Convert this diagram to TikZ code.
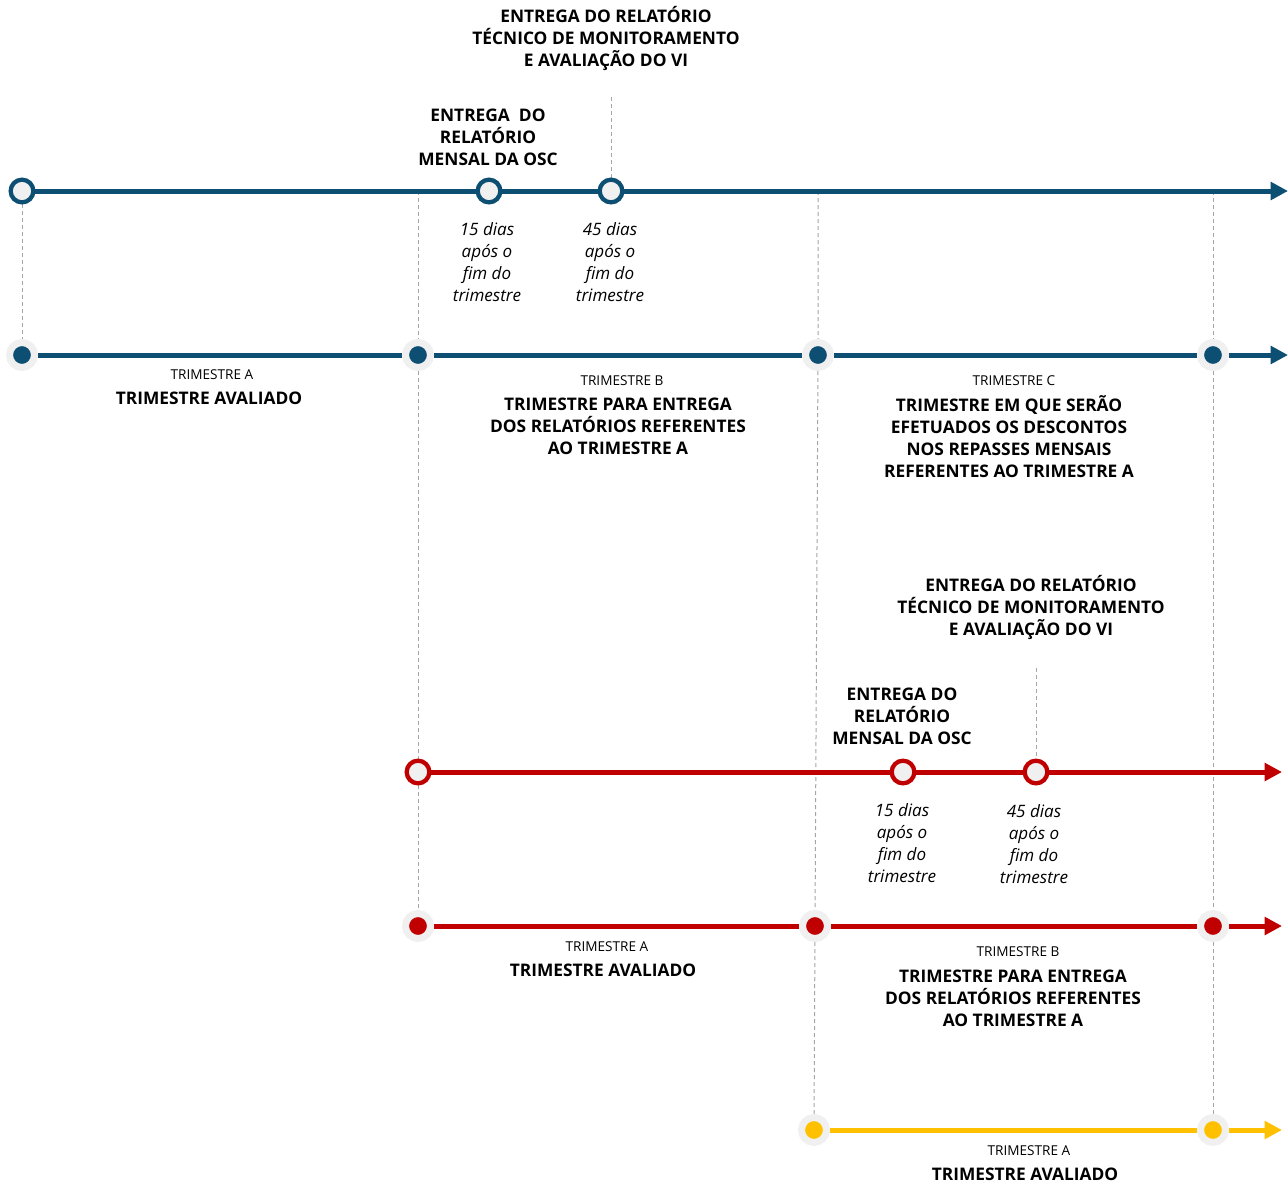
\documentclass[tikz,border=0pt]{standalone}
\usepackage{fontspec}
\setmainfont{Open Sans}
\usepackage{tikz}
\usetikzlibrary{arrows.meta, backgrounds}

\definecolor{azul}{RGB}{12,79,114}
\definecolor{vermelho}{RGB}{192,0,0}
\definecolor{amarelo}{RGB}{255,192,0}
\definecolor{halo}{RGB}{240,240,240}
\definecolor{guia}{RGB}{165,165,165}

\tikzset{
  marco/.style={circle, draw=#1, line width=3.2pt, fill=halo, minimum size=17pt, inner sep=0pt},
  ponto/.style={circle, draw=halo, fill=#1, line width=5.25pt, minimum size=18.75pt, inner sep=0pt},
  eixo/.style={draw=#1, line width=3.75pt},
  seta/.style={-{Triangle[length=13pt, width=13pt]}},
  guiaV/.style={draw=guia, line width=0.75pt, dash pattern=on 3pt off 2.25pt},
  titulo/.style={font=\fontsize{13}{16.5}\selectfont\bfseries, align=center, inner sep=0pt},
  prazo/.style={font=\fontsize{12.8}{16.5}\selectfont\itshape, align=center, inner sep=0pt},
  rotulo/.style={font=\fontsize{10.2}{12}\selectfont, inner sep=0pt},
}

\begin{document}
\begin{tikzpicture}[x=0.75pt, y=-0.75pt]
    \useasboundingbox (0,0) rectangle (1288,1182);

    % --- 1. Linha azul: marcos de entrega ---
    \node[marco=azul] (a0) at (22,191) {};
    \node[marco=azul] (a1) at (489,191) {};
    \node[marco=azul] (a2) at (611,191) {};
    \coordinate (aFim) at (1288,191);
    \coordinate (aB) at (418,191);
    \coordinate (aC) at (818,191);
    \coordinate (aD) at (1213,191);
    \coordinate (aTopo) at (611,97);

    % --- 2. Linha azul: trimestres ---
    \node[ponto=azul] (b0) at (22,355) {};
    \node[ponto=azul] (b1) at (418,355) {};
    \node[ponto=azul] (b2) at (818,355) {};
    \node[ponto=azul] (b3) at (1213,355) {};
    \coordinate (bFim) at (1288,355);

    % --- 3. Linha vermelha: marcos de entrega ---
    \node[marco=vermelho] (r0) at (418,772) {};
    \node[marco=vermelho] (r1) at (903,772) {};
    \node[marco=vermelho] (r2) at (1036,772) {};
    \coordinate (rFim) at (1282,772);
    \coordinate (rTopo) at (1036,668);

    % --- 4. Linha vermelha: trimestres ---
    \node[ponto=vermelho] (s0) at (418,926) {};
    \node[ponto=vermelho] (s1) at (815,926) {};
    \node[ponto=vermelho] (s2) at (1213,926) {};
    \coordinate (sFim) at (1282,926);

    % --- 5. Linha amarela ---
    \node[ponto=amarelo] (y0) at (814,1130) {};
    \node[ponto=amarelo] (y1) at (1213,1130) {};
    \coordinate (yFim) at (1282,1130);

    % --- 6. Eixos e guias (atrás dos marcos) ---
    \begin{pgfonlayer}{background}
        \draw[guiaV] (a0) -- (b0);
        \draw[guiaV] (aB) -- (b1) -- (r0) -- (s0);
        \draw[guiaV] (aC) -- (b2) -- (s1) -- (y0);
        \draw[guiaV] (aD) -- (b3) -- (s2) -- (y1);
        \draw[guiaV] (aTopo) -- (a2);
        \draw[guiaV] (rTopo) -- (r2);

        \draw[eixo=azul] (a0) -- (a1);
        \draw[eixo=azul] (a1) -- (a2);
        \draw[eixo=azul, seta] (a2) -- (aFim);
        \draw[eixo=azul] (b0) -- (b1);
        \draw[eixo=azul] (b1) -- (b2);
        \draw[eixo=azul] (b2) -- (b3);
        \draw[eixo=azul, seta] (b3) -- (bFim);

        \draw[eixo=vermelho] (r0) -- (r1);
        \draw[eixo=vermelho] (r1) -- (r2);
        \draw[eixo=vermelho, seta] (r2) -- (rFim);
        \draw[eixo=vermelho] (s0) -- (s1);
        \draw[eixo=vermelho] (s1) -- (s2);
        \draw[eixo=vermelho, seta] (s2) -- (sFim);

        \draw[eixo=amarelo] (y0) -- (y1);
        \draw[eixo=amarelo, seta] (y1) -- (yFim);
    \end{pgfonlayer}

    % --- 7. Textos da parte azul ---
    \node[titulo] (tVI) at (606,39) {ENTREGA DO RELATÓRIO\\TÉCNICO DE MONITORAMENTO\\E AVALIAÇÃO DO VI};
    \node[titulo] (tOSC) at (488,137) {ENTREGA~ DO\\RELATÓRIO\\MENSAL DA OSC};
    \node[prazo] (p15) at (487,262) {15 dias\\após o\\fim do\\trimestre};
    \node[prazo] (p45) at (610,262) {45 dias\\após o\\fim do\\trimestre};

    \node[rotulo] (lA) at (212,375) {TRIMESTRE A};
    \node[titulo] (tA) at (209,398) {TRIMESTRE AVALIADO};
    \node[rotulo] (lB) at (622,381) {TRIMESTRE B};
    \node[titulo] (tB) at (618,426) {TRIMESTRE PARA ENTREGA\\DOS RELATÓRIOS REFERENTES\\AO TRIMESTRE A};
    \node[rotulo] (lC) at (1014,381) {TRIMESTRE C};
    \node[titulo] (tC) at (1009,437) {TRIMESTRE EM QUE SERÃO\\EFETUADOS OS DESCONTOS\\NOS REPASSES MENSAIS\\REFERENTES AO TRIMESTRE A};

    % --- 8. Textos da parte vermelha ---
    \node[titulo] (uVI) at (1031,608) {ENTREGA DO RELATÓRIO\\TÉCNICO DE MONITORAMENTO\\E AVALIAÇÃO DO VI};
    \node[titulo] (uOSC) at (902,716) {ENTREGA DO\\RELATÓRIO\\MENSAL DA OSC};
    \node[prazo] (q15) at (902,843) {15 dias\\após o\\fim do\\trimestre};
    \node[prazo] (q45) at (1034,844) {45 dias\\após o\\fim do\\trimestre};

    \node[rotulo] (mA) at (607,947) {TRIMESTRE A};
    \node[titulo] (uA) at (603,970) {TRIMESTRE AVALIADO};
    \node[rotulo] (mB) at (1018,952) {TRIMESTRE B};
    \node[titulo] (uB) at (1013,998) {TRIMESTRE PARA ENTREGA\\DOS RELATÓRIOS REFERENTES\\AO TRIMESTRE A};

    % --- 9. Textos da parte amarela ---
    \node[rotulo] (nA) at (1029,1151) {TRIMESTRE A};
    \node[titulo] (vA) at (1025,1174) {TRIMESTRE AVALIADO};
\end{tikzpicture}
\end{document}
